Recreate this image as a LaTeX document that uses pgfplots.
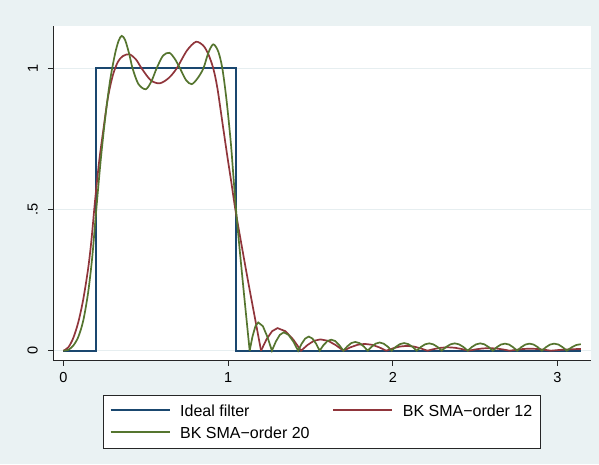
\documentclass[border=0pt]{standalone}
\usepackage{fontspec}
\setmainfont{Liberation Sans}
\usepackage{pgfplots}
\pgfplotsset{compat=1.18}

\definecolor{stnavy}{RGB}{26,71,111}
\definecolor{stmaroon}{RGB}{144,53,59}
\definecolor{stgreen}{RGB}{85,117,47}
\definecolor{stbg}{RGB}{234,242,243}
\definecolor{stgrid}{RGB}{230,238,240}

\begin{document}
\begin{tikzpicture}
\fill[stbg] (0pt,0pt) rectangle (599pt,464pt);
\begin{axis}[
  at={(53.3pt,104pt)}, anchor=south west,
  width=537.4pt, height=334pt, scale only axis,
  xmin=-0.0613, xmax=3.2016, ymin=-0.033, ymax=1.150,
  axis background/.style={fill=white},
  axis lines*=left,
  axis line style={line width=0.8pt, black!85},
  tick align=outside, major tick length=5.5pt,
  tick style={line width=0.8pt, black!85},
  xtick={0,1,2,3}, xticklabels={0,1,2,3},
  ytick={0,0.5,1}, yticklabels={0,.5,1},
  ymajorgrids, grid style={line width=0.8pt, stgrid},
  tick label style={font=\fontsize{14.5}{17}\selectfont},
  xticklabel style={anchor=north, inner xsep=0pt, inner ysep=6.5pt},
  yticklabel style={rotate=90, anchor=south, inner xsep=0pt, inner ysep=9.8pt},
  every axis plot/.append style={line width=1.7pt},
]
% ideal band-pass gain
\addplot[stnavy] coordinates {
  (0,0) (0.19635,0) (0.19635,1) (1.0472,1) (1.0472,0) (3.1416,0)
};

% BK order 12: rising edge, pass band, falling edge
\addplot[stmaroon, smooth] coordinates {
  (0,0) (0.03,0.012) (0.06,0.045) (0.09,0.10) (0.12,0.18) (0.15,0.29)
  (0.17,0.39) (0.192,0.53) (0.217,0.67) (0.242,0.78) (0.27,0.895)
  (0.30,0.975) (0.33,1.022) (0.36,1.043) (0.40,1.050) (0.44,1.032)
  (0.475,1.0) (0.53,0.958) (0.585,0.947) (0.64,0.966) (0.688,1.0)
  (0.75,1.063) (0.805,1.094) (0.85,1.08) (0.88,1.05) (0.91,1.0)
  (0.935,0.93) (0.965,0.81) (0.995,0.69) (1.02,0.595) (1.044,0.5)
  (1.08,0.38) (1.12,0.25) (1.16,0.125) (1.20,0)
};

% BK order 12: stop band ripples
\addplot[stmaroon] coordinates {
  (1.200,0) (1.233,0.040) (1.267,0.069) (1.300,0.080) (1.348,0.069) (1.395,0.040)
  (1.443,0) (1.482,0.020) (1.521,0.035) (1.560,0.040) (1.607,0.035) (1.653,0.020)
  (1.700,0) (1.743,0.012) (1.787,0.021) (1.830,0.024) (1.873,0.021) (1.917,0.012)
  (1.960,0) (2.002,0.0085) (2.043,0.0147) (2.085,0.017) (2.127,0.0147) (2.168,0.0085)
  (2.210,0) (2.252,0.006) (2.293,0.0104) (2.335,0.012) (2.377,0.0104) (2.418,0.006)
  (2.460,0) (2.502,0.0045) (2.543,0.0078) (2.585,0.009) (2.627,0.0078) (2.668,0.0045)
  (2.710,0) (2.752,0.0035) (2.793,0.0061) (2.835,0.007) (2.877,0.0061) (2.918,0.0035)
  (2.960,0) (3.020,0.003) (3.080,0.0052) (3.1416,0.006)
};

% BK order 20: rising edge, pass band, falling edge
\addplot[stgreen, smooth] coordinates {
  (0,0) (0.03,0.003) (0.06,0.018) (0.09,0.048) (0.12,0.105) (0.15,0.205)
  (0.175,0.33) (0.196,0.475) (0.225,0.665) (0.253,0.82) (0.283,0.955)
  (0.313,1.05) (0.335,1.097) (0.354,1.115) (0.375,1.10) (0.40,1.05)
  (0.42,1.0) (0.455,0.945) (0.50,0.926) (0.535,0.955) (0.566,1.0)
  (0.605,1.045) (0.643,1.055) (0.675,1.035) (0.708,1.0) (0.745,0.958)
  (0.779,0.944) (0.815,0.965) (0.85,1.0) (0.88,1.055) (0.91,1.085)
  (0.94,1.06) (0.965,1.0) (0.99,0.89) (1.016,0.74) (1.032,0.62)
  (1.048,0.5) (1.07,0.36) (1.10,0.18) (1.131,0)
};

% BK order 20: stop band ripples
\addplot[stgreen] coordinates {
  (1.131,0) (1.148,0.050) (1.166,0.087) (1.183,0.100) (1.211,0.087) (1.238,0.050)
  (1.266,0) (1.290,0.0325) (1.314,0.056) (1.338,0.065) (1.367,0.056) (1.396,0.0325)
  (1.425,0) (1.447,0.025) (1.468,0.043) (1.490,0.050) (1.512,0.043) (1.534,0.025)
  (1.556,0) (1.579,0.0195) (1.603,0.034) (1.626,0.039) (1.651,0.034) (1.675,0.0195)
  (1.700,0) (1.724,0.0155) (1.748,0.027) (1.772,0.031) (1.797,0.027) (1.823,0.0155)
  (1.848,0) (1.872,0.0145) (1.896,0.025) (1.920,0.029) (1.944,0.025) (1.969,0.0145)
  (1.993,0) (2.018,0.0135) (2.044,0.0234) (2.069,0.027) (2.094,0.0234) (2.120,0.0135)
  (2.145,0) (2.170,0.013) (2.196,0.0225) (2.221,0.026) (2.246,0.0225) (2.272,0.013)
  (2.297,0) (2.323,0.013) (2.350,0.0225) (2.376,0.026) (2.402,0.0225) (2.429,0.013)
  (2.455,0) (2.480,0.013) (2.506,0.0225) (2.531,0.026) (2.556,0.0225) (2.582,0.013)
  (2.607,0) (2.632,0.0125) (2.656,0.0217) (2.681,0.025) (2.706,0.0217) (2.730,0.0125)
  (2.755,0) (2.780,0.0125) (2.805,0.0217) (2.830,0.025) (2.855,0.0217) (2.880,0.0125)
  (2.905,0) (2.930,0.0125) (2.955,0.0217) (2.980,0.025) (3.006,0.0217) (3.031,0.0125)
  (3.056,0) (3.085,0.0115) (3.113,0.020) (3.1416,0.023)
};
\end{axis}

% legend box below the plot
\draw[black!85, line width=0.7pt, fill=white] (103.3pt,15.7pt) rectangle (540.7pt,68.3pt);
\begin{scope}[line width=1.7pt]
  \draw[stnavy]   (110.7pt,54pt)   -- (170pt,54pt);
  \draw[stmaroon] (333pt,54pt)     -- (391.7pt,54pt);
  \draw[stgreen]  (110.7pt,31.7pt) -- (170pt,31.7pt);
\end{scope}
\begin{scope}[every node/.style={anchor=base west, inner sep=0pt, font=\fontsize{16}{19}\selectfont}]
  \node at (180pt,48pt)   {Ideal filter};
  \node at (402.7pt,48pt) {BK SMA\textminus order 12};
  \node at (180pt,25.7pt) {BK SMA\textminus order 20};
\end{scope}
\end{tikzpicture}
\end{document}
